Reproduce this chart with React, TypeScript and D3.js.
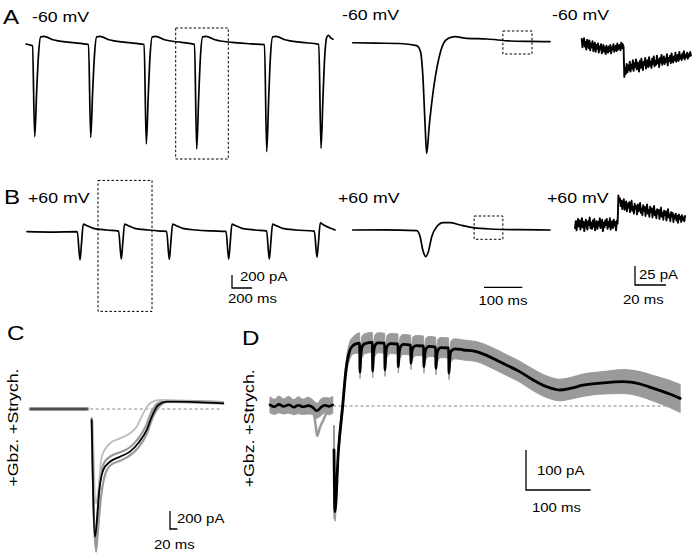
import React from "react"
import * as d3 from "d3"

type P = [number, number]
type S = [number, number, number]

const FONT = "'Liberation Sans', Arial, Helvetica, sans-serif"
const SX = 1.15

// ---- A: -60 mV, train (t in ms, I in pA)
const A_LEFT: P[] = [
  [0, 15], [40, 0], [65, -15], [87, -1410], [107, -700], [123, -200], [147, 125], [180, 132], [270, 80], [440, 40], [625, 8],
  [647, -1420], [667, -700], [683, -200], [707, 125], [740, 132], [830, 80], [1000, 40], [1181, 8],
  [1203, -1520], [1223, -760], [1239, -210], [1263, 125], [1296, 132], [1386, 80], [1556, 40], [1685, 10],
  [1707, -1600], [1727, -800], [1743, -220], [1767, 125], [1800, 132], [1890, 80], [2060, 40], [2250, 18], [2385, 5],
  [2407, -1640], [2427, -820], [2443, -220], [2467, 125], [2500, 132], [2590, 80], [2760, 40], [2928, 10],
  [2950, -1590], [2970, -800], [2986, -210], [3010, 130], [3025, 150], [3045, 115], [3070, 90],
]
const A_MID: P[] = [
  [0, 11], [60, 5], [123, 0], [167, -31], [177, -117], [183, -450], [189, -1164], [193, -1569], [200, -1164],
  [210, -689], [223, -260], [237, 3], [250, 74], [267, 97], [298, 74], [350, 64], [411, 36], [463, 29], [515, 26],
]
// 0.5 ms samples, pA
const A_RIGHT = [
  8, -3, 5, 9, -2, 4, -6, 7, 1, -4, 6, -7, 2, -3, 5, -8, -1, 3, -9, 0, -5, 2, -10, -2, -6, 1, -11, -4, 0, -9,
  -3, -12, -1, -7, -10, -2, -8, 0, -11, -3, -6, 1, -9, -4, -1, -8, 2, -6, -3, 0, -7, 3, -4, 1, -2,
  -42, -30, -38, -25, -36, -27, -33, -22, -35, -26, -31, -20, -34, -24, -29, -19, -32, -23, -28, -35, -21, -30,
  -18, -27, -33, -22, -26, -17, -31, -24, -20, -29, -16, -27, -22, -30, -18, -25, -15, -28, -21, -26, -14, -24,
  -19, -29, -17, -23, -13, -26, -20, -15, -25, -18, -22, -12, -27, -17, -21, -14, -24, -11, -19, -23, -15, -20,
  -10, -22, -16, -13, -21, -9, -18, -14, -20, -11, -17, -8, -19, -13, -16, -10, -18, -12, -15, -9, -14,
]

// ---- B: +60 mV
const B_LEFT: P[] = [
  [0, 0], [250, -5], [503, 0],
  [530, -435], [545, -180], [563, 118], [590, 100], [663, 52], [797, 26], [916, 10],
  [943, -420], [958, -170], [976, 118], [1003, 100], [1076, 52], [1210, 26], [1330, 10], [1396, 5],
  [1423, -425], [1438, -175], [1456, 118], [1483, 100], [1556, 52], [1690, 26], [1850, 12], [1990, 5],
  [2017, -420], [2032, -170], [2050, 118], [2077, 100], [2150, 52], [2284, 26], [2396, 12],
  [2423, -420], [2438, -170], [2456, 118], [2483, 100], [2556, 52], [2690, 26], [2873, 8],
  [2900, -390], [2915, -160], [2933, 138], [2960, 110], [3030, 57], [3080, 26],
]
const B_MID: P[] = [
  [0, 0], [80, 3], [167, -10], [176, -96], [183, -286], [190.6, -381], [197.4, -310], [206.3, -96],
  [219.3, 47], [236.6, 104], [254, 104], [280, 71], [315, 33], [358.5, 14], [430, 5], [515, 0],
]
// 0.5 ms samples, pA
const B_RIGHT = [
  -5, 4, -8, 2, 7, -3, 5, -7, 1, 8, -4, 3, -9, 0, 6, -2, -7, 4, -1, 9, -5, 2, -6, 5, -3, 7, -8, 1,
  4, -6, 3, -2, 8, -5, 0, 6, -9, 2, -4, 5, -1, 7, -6, 3, -3, 8, -7, 0, 4, -5, 6, -2, 3, -8, 5, 1,
  38, 30, 34, 24, 31, 20, 28, 33, 19, 26, 30, 17, 27, 22, 29, 16, 25, 31, 18, 23, 14, 27, 20, 24, 13, 26,
  17, 22, 28, 15, 21, 12, 25, 18, 23, 11, 20, 26, 14, 19, 10, 23, 16, 21, 9, 18, 24, 12, 17, 8, 20, 14,
  19, 7, 16, 22, 10, 15, 6, 18, 12, 17, 5, 14, 20, 9, 13, 4, 16, 10, 15, 3, 12, 8, 14, 5, 11, 2, 13, 7,
  10, 3, 12, 6, 9, 4, 11,
]

// ---- C
const C_PRE: P[] = [[-163, 0], [-12, 0]]
const C_MEAN: P[] = [
  [0, -122], [8.8, -1419], [13.3, -1267], [20.3, -900], [30.9, -678], [48.8, -586], [75.5, -530], [102, -474],
  [124, -381], [146.7, -233], [160, -86], [177.6, 44], [200, 81], [226.7, 81], [351, 63],
]
const C_FAST: P[] = [
  [2.7, -141], [11.5, -1048], [17.6, -900], [26.7, -530], [48.8, -381], [75.5, -326], [102, -270], [120, -197],
  [137.6, -48], [155.5, 63], [182, 100], [217.6, 92], [350, 72],
]
const C_G1: P[] = [
  [0, -100], [9.6, -1511], [14.1, -1233], [22, -811], [32.8, -600], [48.8, -530], [75.5, -480], [102, -425],
  [123, -335], [145, -185], [158, -45], [175, 60], [198, 92], [350, 76],
]
const C_G2: P[] = [
  [0, -122], [11.5, -1589], [16.8, -1344], [24.8, -978], [35.5, -733], [51.5, -620], [75.5, -575], [102, -515],
  [126, -420], [148, -268], [160.8, -115], [180, 28], [203, 80], [350, 62],
]

// ---- D  [t ms, mean pA, spread pA]
const D_PRE: S[] = [
  [-99, 3, 20], [-92, -2, 19], [-85, 4, 21], [-78, -1, 19], [-70, 3, 21], [-62, -3, 19], [-55, 2, 21], [-48, -2, 19],
  [-40, 1, 21], [-34, -2, 19], [-30, -8, 19], [-27, -12, 19], [-24, -10, 19], [-20, -3, 21], [-14, 2, 19], [-8, -1, 21], [-2, 3, 21],
]
const D_DIP: P[] = [[-32, -8], [-29, -40], [-26, -75], [-22, -55], [-16.5, -35], [-9, -10], [-4, -2]]
const D_ART: P[] = [[0, -50], [0.4, -280]]
const D_MAIN: S[] = [
  [0, -110, 8], [1.5, -264, 24], [6.6, -118, 20], [13.4, 0, 20], [18.5, 90, 20], [24.7, 140, 22], [30, 152, 22],
  [35, 156, 24], [39.6, 157, 26], [40.2, 84, 16], [41.4, 125, 20], [43.4, 148, 27], [48, 156, 25],
  [59.2, 159, 25], [59.8, 87, 16], [61, 128, 20], [63, 150, 27], [68, 158, 25],
  [78.2, 157, 25], [78.8, 90, 16], [80, 128, 20], [82, 149, 27], [87, 156, 25],
  [98.8, 155, 25], [99.4, 98, 16], [100.6, 130, 20], [102.6, 147, 27], [107, 154, 25],
  [118.4, 152, 25], [119, 107, 16], [120.2, 132, 20], [122.2, 146, 27], [127, 151, 25],
  [138.4, 150, 25], [139, 98, 16], [140.2, 126, 20], [142.2, 143, 27], [147, 149, 25],
  [157, 147, 25], [157.6, 94, 16], [158.8, 124, 20], [160.8, 140, 27], [165, 146, 25],
  [177.1, 145, 25], [177.7, 82, 16], [179, 118, 20], [181, 137, 26], [187, 143, 25],
  [200, 140, 25], [220, 136, 25], [246, 119, 26], [267, 102, 26], [287, 86, 26], [308, 65, 27], [329, 48, 27],
  [349, 40, 27], [365, 44, 27], [385, 52, 28], [416, 58, 28], [447, 61, 30], [473, 55, 31], [494, 44, 32],
  [519, 30, 34], [535, 19, 35],
]

type Sc = d3.ScaleLinear<number, number>

function Trace({ data, x, y, stroke = "#000", width = 1.7, curve = d3.curveMonotoneX }: {
  data: P[]; x: Sc; y: Sc; stroke?: string; width?: number; curve?: d3.CurveFactory
}) {
  const line = d3.line<P>().x(d => x(d[0])).y(d => y(d[1])).curve(curve)
  return <path d={line(data) ?? ""} fill="none" stroke={stroke} strokeWidth={width}
    strokeLinejoin="round" strokeLinecap="round" />
}

function Band({ data, x, y, fill = "#9a9a9a" }: { data: S[]; x: Sc; y: Sc; fill?: string }) {
  const area = d3.area<S>().x(d => x(d[0])).y0(d => y(d[1] - d[2])).y1(d => y(d[1] + d[2])).curve(d3.curveMonotoneX)
  return <path d={area(data) ?? ""} fill={fill} stroke={fill} strokeWidth={1} />
}

function Label({ x, y, size, children, rotate = false, anchor = "start" }: {
  x: number; y: number; size: number; children: React.ReactNode; rotate?: boolean; anchor?: string
}) {
  const tf = `translate(${x},${y})${rotate ? " rotate(-90)" : ""} scale(${SX},1)`
  return <text transform={tf} fontFamily={FONT} fontSize={size} textAnchor={anchor as any} fill="#000">{children}</text>
}

function Box({ x, y, t0, t1, i0, i1 }: { x: Sc; y: Sc; t0: number; t1: number; i0: number; i1: number }) {
  return <rect x={x(t0)} y={y(i0)} width={x(t1) - x(t0)} height={y(i1) - y(i0)}
    fill="none" stroke="#000" strokeWidth={1} strokeDasharray="2.5,2" />
}

const samples = (v: number[], dt: number): P[] => v.map((d, i) => [i * dt, d])

export default function App() {
  // A
  const xAL = d3.scaleLinear().domain([0, 3070]).range([26, 333])
  const yAL = d3.scaleLinear().domain([0, -1000]).range([45, 110])
  const xAM = d3.scaleLinear().domain([0, 515]).range([352.7, 550])
  const yAM = d3.scaleLinear().domain([0, -1000]).range([43.5, 113.5])
  const xAR = d3.scaleLinear().domain([0, 20]).range([581.7, 581.7 + 31])
  const yAR = d3.scaleLinear().domain([0, -25]).range([45, 64])
  // B
  const xBL = d3.scaleLinear().domain([0, 3080]).range([27, 335])
  const yBL = d3.scaleLinear().domain([0, -1000]).range([231.7, 296.7])
  const xBM = d3.scaleLinear().domain([0, 515]).range([352.7, 550])
  const yBM = d3.scaleLinear().domain([0, -1000]).range([230, 300])
  const xBR = d3.scaleLinear().domain([0, 20]).range([575, 575 + 31])
  const yBR = d3.scaleLinear().domain([0, 25]).range([224.3, 205.3])
  // C, D
  const xC = d3.scaleLinear().domain([0, 20]).range([91.7, 99.2])
  const yC = d3.scaleLinear().domain([0, -200]).range([409, 427])
  const xD = d3.scaleLinear().domain([0, 100]).range([334, 398.7])
  const yD = d3.scaleLinear().domain([0, 100]).range([406, 366])

  const bar = (x: Sc, y: Sc, px: number, py: number, dt: number, di: number, vertical = true) => {
    const w = x(dt) - x(0)
    const h = Math.abs(y(di) - y(0))
    return (
      <path d={vertical ? `M${px},${py - h}V${py}H${px + w}` : `M${px},${py}H${px + w}`}
        fill="none" stroke="#000" strokeWidth={1.3} />
    )
  }

  return (
    <svg width={694} height={555} style={{ position: "absolute", left: 0, top: 0, background: "#fff" }}>
      {/* Panel A */}
      <Label x={3} y={23.5} size={21}>A</Label>
      <Label x={32} y={22} size={15.4}>-60 mV</Label>
      <Label x={342} y={20} size={15.4}>-60 mV</Label>
      <Label x={552} y={20} size={15.4}>-60 mV</Label>
      <Trace data={A_LEFT} x={xAL} y={yAL} />
      <Box x={xAL} y={yAL} t0={1497} t1={2023} i0={262} i1={-1754} />
      <Trace data={A_MID} x={xAM} y={yAM} />
      <Box x={xAM} y={yAM} t0={392} t1={468} i0={179} i1={-150} />
      <Trace data={samples(A_RIGHT, 0.5)} x={xAR} y={yAR} curve={d3.curveLinear} width={1.9} />

      {/* Panel B */}
      <Label x={4} y={204} size={21}>B</Label>
      <Label x={28} y={203} size={15.4}>+60 mV</Label>
      <Label x={338} y={203} size={15.4}>+60 mV</Label>
      <Label x={547} y={203} size={15.4}>+60 mV</Label>
      <Trace data={B_LEFT} x={xBL} y={yBL} />
      <Box x={xBL} y={yBL} t0={710} t1={1250} i0={789} i1={-1226} />
      <Trace data={B_MID} x={xBM} y={yBM} />
      <Box x={xBM} y={yBM} t0={317} t1={392} i0={200} i1={-133} />
      <Trace data={samples(B_RIGHT, 0.5)} x={xBR} y={yBR} curve={d3.curveLinear} width={1.9} />
      {bar(xBL, yBL, 232, 288, 200, 200)}
      <Label x={240} y={281} size={13}>200 pA</Label>
      <Label x={228} y={303} size={13}>200 ms</Label>
      {bar(xBM, yBM, 484, 287.3, 100, 0, false)}
      <Label x={503} y={305} size={13} anchor="middle">100 ms</Label>
      {bar(xBR, yBR, 635, 285, 20, 25)}
      <Label x={639} y={279} size={13}>25 pA</Label>
      <Label x={623} y={304} size={13}>20 ms</Label>

      {/* Panel C */}
      <Label x={7} y={339.5} size={21}>C</Label>
      <Label x={17.5} y={427.5} size={15.4} rotate anchor="middle">+Gbz. +Strych.</Label>
      <line x1={xC(-4)} x2={xC(349)} y1={yC(0)} y2={yC(0)} stroke="#888" strokeWidth={1} strokeDasharray="3,2.5" />
      <Trace data={C_PRE} x={xC} y={yC} stroke="#9a9a9a" width={4} />
      <Trace data={C_PRE} x={xC} y={yC} stroke="#333" width={1.6} />
      <Trace data={C_G2} x={xC} y={yC} stroke="#9a9a9a" width={2.2} />
      <Trace data={C_G1} x={xC} y={yC} stroke="#9a9a9a" width={2.2} />
      <Trace data={C_FAST} x={xC} y={yC} stroke="#bdbdbd" width={1.8} />
      <Trace data={C_MEAN} x={xC} y={yC} width={1.8} />
      {bar(xC, yC, 170, 529, 20, 200)}
      <Label x={177} y={523} size={13}>200 pA</Label>
      <Label x={154} y={549} size={13}>20 ms</Label>

      {/* Panel D */}
      <Label x={242} y={344.5} size={21}>D</Label>
      <Label x={254.3} y={428.3} size={15.4} rotate anchor="middle">+Gbz. +Strych.</Label>
      <line x1={xD(-1.5)} x2={xD(535)} y1={yD(0)} y2={yD(0)} stroke="#888" strokeWidth={1} strokeDasharray="3,2.5" />
      <Band data={D_PRE} x={xD} y={yD} />
      <Trace data={D_DIP} x={xD} y={yD} stroke="#9a9a9a" width={2.5} />
      <Trace data={D_PRE.map(d => [d[0], d[1]] as P)} x={xD} y={yD} width={2.6} />
      <Trace data={D_ART} x={xD} y={yD} stroke="#9a9a9a" width={2} curve={d3.curveLinear} />
      <Band data={D_MAIN} x={xD} y={yD} />
      <Trace data={D_MAIN.map(d => [d[0], d[1]] as P)} x={xD} y={yD} width={2.8} />
      {bar(xD, yD, 526, 490, 100, 100)}
      <Label x={537} y={475} size={13}>100 pA</Label>
      <Label x={532} y={512} size={13}>100 ms</Label>
    </svg>
  )
}
